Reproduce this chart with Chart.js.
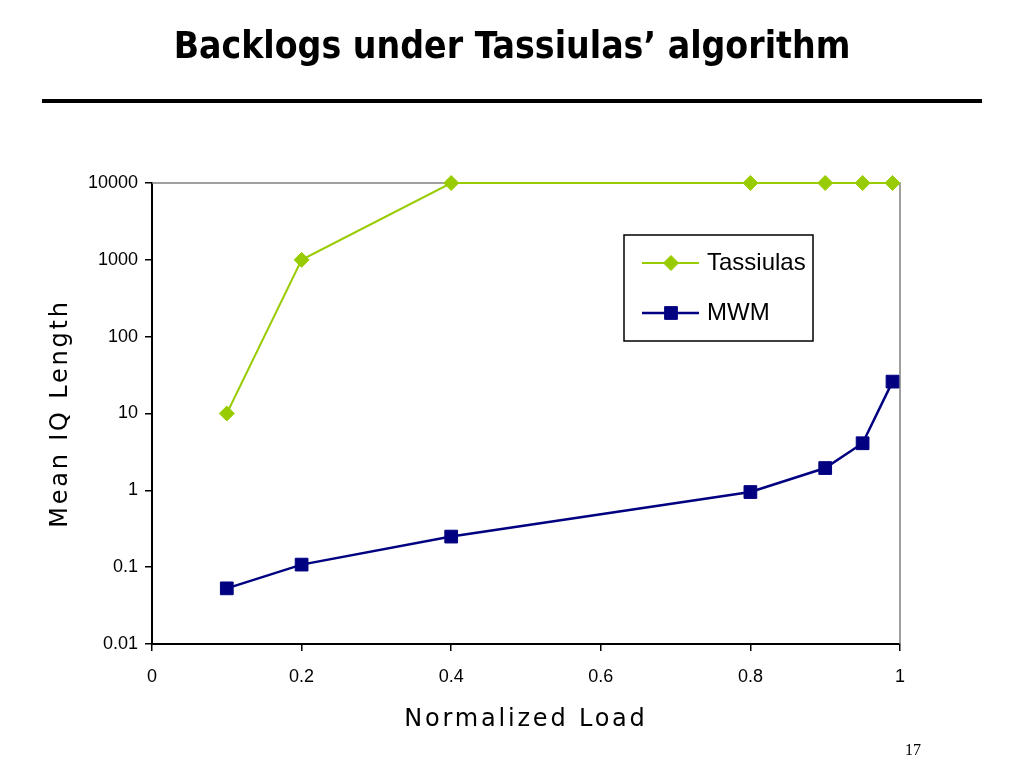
<!DOCTYPE html>
<html>
<head>
<meta charset="utf-8">
<title>Backlogs under Tassiulas' algorithm</title>
<script src="https://cdn.jsdelivr.net/npm/chart.js@4/dist/chart.umd.min.js"></script>
<style>
    html, body { margin: 0; padding: 0; background: #fff; }
    #page { position: relative; width: 1024px; height: 768px; overflow: hidden; }
    #title {
        position: absolute; left: 0; top: 24px; width: 1024px;
        text-align: center; font-family: "DejaVu Sans Condensed", "DejaVu Sans", sans-serif;
        font-weight: bold; font-size: 37px; line-height: 44px; color: #000;
    }
    #rule { position: absolute; left: 42px; top: 99px; width: 940px; height: 4px; background: #000; }
    #slideNo {
        position: absolute; left: 905px; top: 741px;
        font-family: "Liberation Serif", "DejaVu Serif", serif; font-size: 16px; color: #000;
    }
    #chart { position: absolute; left: 0; top: 0; }
</style>
</head>
<body>
<div id="page">
    <canvas id="chart" width="1024" height="768"></canvas>
    <div id="title">Backlogs under Tassiulas’ algorithm</div>
    <div id="rule"></div>
    <div id="slideNo">17</div>
</div>
<script>
// Values
const loads = [0.1, 0.2, 0.4, 0.8, 0.9, 0.95, 0.99];
const tassiulas = [10, 1000, 10000, 10000, 10000, 10000, 10000];
const mwm = [0.053, 0.108, 0.25, 0.95, 1.95, 4.1, 26];
const yTicks = [0.01, 0.1, 1, 10, 100, 1000, 10000];
const yTickLabels = ['0.01', '0.1', '1', '10', '100', '1000', '10000'];
const xTickLabels = ['0', '0.2', '0.4', '0.6', '0.8', '1'];

function toPoints(ys) {
    return loads.map((x, i) => ({ x: x, y: ys[i] }));
}

// Spaced-out axis titles: set before the title layer, reset before the data
const spacingPlugin = {
    id: 'spacing',
    beforeDraw(chart) { chart.ctx.letterSpacing = '2.8px'; },
    beforeDatasetsDraw(chart) { chart.ctx.letterSpacing = '0px'; },
    afterDraw(chart) { chart.ctx.letterSpacing = '0px'; }
};

// Grey top and right edges of the plot area
const framePlugin = {
    id: 'frame',
    beforeDatasetsDraw(chart) {
        const { ctx, chartArea: a } = chart;
        ctx.save();
        ctx.strokeStyle = '#808080';
        ctx.lineWidth = 1.5;
        ctx.beginPath();
        ctx.moveTo(a.left, a.top);
        ctx.lineTo(a.right, a.top);
        ctx.lineTo(a.right, a.bottom);
        ctx.stroke();
        ctx.restore();
    }
};

// Boxed legend inside the plot
const boxLegend = {
    id: 'boxLegend',
    afterDraw(chart, args, opts) {
        const ctx = chart.ctx;
        ctx.save();
        ctx.fillStyle = '#fff';
        ctx.fillRect(opts.x, opts.y, opts.w, opts.h);
        ctx.strokeStyle = '#000';
        ctx.lineWidth = 1.5;
        ctx.strokeRect(opts.x, opts.y, opts.w, opts.h);
        chart.data.datasets.forEach((ds, i) => {
            const cy = opts.y + opts.rowTop + i * opts.rowGap;
            ctx.strokeStyle = ds.borderColor;
            ctx.lineWidth = ds.borderWidth;
            ctx.beginPath();
            ctx.moveTo(opts.x + 18, cy);
            ctx.lineTo(opts.x + 75, cy);
            ctx.stroke();
            ctx.fillStyle = ds.pointBackgroundColor;
            ctx.strokeStyle = ds.pointBorderColor;
            ctx.lineWidth = 1;
            Chart.helpers.drawPoint(ctx, { pointStyle: ds.pointStyle, radius: ds.pointRadius, rotation: 0, borderWidth: 1 }, opts.x + 47, cy);
            ctx.fillStyle = '#000';
            ctx.font = '24px "Liberation Sans", Arial, sans-serif';
            ctx.textBaseline = 'middle';
            ctx.textAlign = 'left';
            ctx.fillText(ds.label, opts.x + 83, cy);
        });
        ctx.restore();
    }
};

const ctx = document.getElementById('chart').getContext('2d');
new Chart(ctx, {
    type: 'line',
    data: {
        datasets: [{
            label: 'Tassiulas',
            data: toPoints(tassiulas),
            borderColor: '#99CC00',
            backgroundColor: '#99CC00',
            borderWidth: 2,
            pointStyle: 'rectRot',
            pointRadius: 7.5,
            pointBackgroundColor: '#99CC00',
            pointBorderColor: '#99CC00',
            pointBorderWidth: 1,
            clip: false
        }, {
            label: 'MWM',
            data: toPoints(mwm),
            borderColor: '#000080',
            backgroundColor: '#000080',
            borderWidth: 2.5,
            pointStyle: 'rect',
            pointRadius: 9,
            pointBackgroundColor: '#000080',
            pointBorderColor: '#000080',
            pointBorderWidth: 1,
            clip: false
        }]
    },
    options: {
        responsive: false,
        animation: false,
        devicePixelRatio: 1,
        layout: { padding: { left: 0, right: 124, top: 183, bottom: 0 } },
        plugins: {
            legend: { display: false },
            title: { display: false },
            tooltip: { enabled: false },
            boxLegend: { x: 624, y: 235, w: 189, h: 106, rowTop: 28, rowGap: 50 }
        },
        scales: {
            x: {
                type: 'linear',
                min: 0,
                max: 1,
                afterFit(scale) { scale.height = 124; },
                afterBuildTicks(scale) {
                    scale.ticks = xTickLabels.map(v => ({ value: parseFloat(v) }));
                },
                ticks: {
                    z: 1,
                    autoSkip: false,
                    maxRotation: 0,
                    padding: 15,
                    color: '#000',
                    font: { family: '"Liberation Sans Narrow", "Liberation Sans", Arial, sans-serif', size: 18 },
                    callback: (v, i) => xTickLabels[i]
                },
                grid: { drawOnChartArea: false, drawTicks: true, tickLength: 7, color: '#000', lineWidth: 1.5 },
                border: { display: true, color: '#000', width: 2 },
                title: {
                    display: true,
                    text: 'Normalized Load',
                    color: '#000',
                    font: { family: '"DejaVu Sans", Verdana, sans-serif', size: 24 },
                    padding: { top: 0, bottom: 34 }
                }
            },
            y: {
                type: 'logarithmic',
                min: 0.01,
                max: 10000,
                afterFit(scale) { scale.width = 152; },
                afterBuildTicks(scale) {
                    scale.ticks = yTicks.map(v => ({ value: v, major: true }));
                },
                ticks: {
                    z: 1,
                    autoSkip: false,
                    padding: 7,
                    color: '#000',
                    font: { family: '"Liberation Sans", Arial, sans-serif', size: 18 },
                    callback: (v) => yTickLabels[yTicks.indexOf(v)]
                },
                grid: { drawOnChartArea: false, drawTicks: true, tickLength: 7, color: '#000', lineWidth: 1.5 },
                border: { display: true, color: '#000', width: 2 },
                title: {
                    display: true,
                    text: 'Mean IQ Length',
                    color: '#000',
                    font: { family: '"DejaVu Sans", Verdana, sans-serif', size: 24 },
                    padding: { top: 46, bottom: 0 }
                }
            }
        }
    },
    plugins: [spacingPlugin, framePlugin, boxLegend]
});
</script>
</body>
</html>
